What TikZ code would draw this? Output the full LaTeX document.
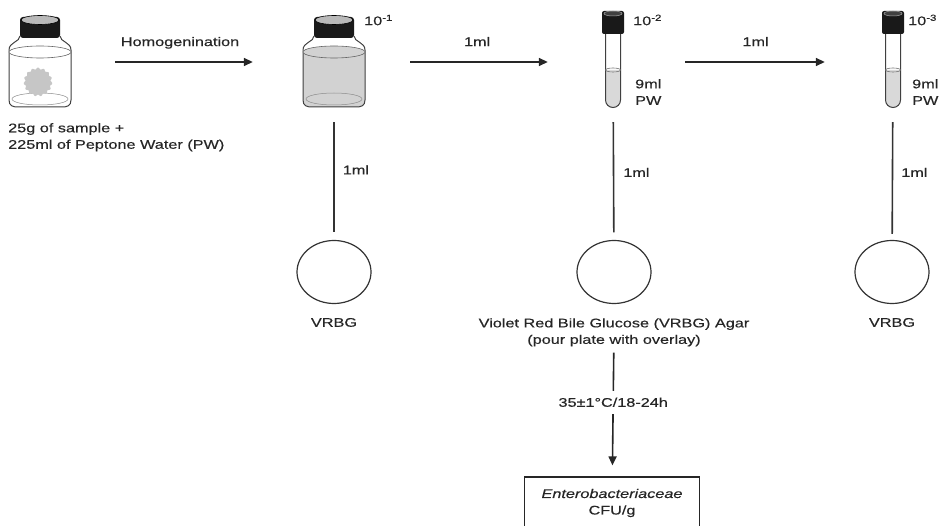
\documentclass[tikz,border=0pt]{standalone}
\usepackage{fontspec}
\setmainfont{Liberation Sans}[FakeStretch=1.3, FakeBold=0.4]
\usepackage{tikz}
\usetikzlibrary{shapes.geometric,arrows.meta,positioning}
\tikzset{
  vessel/.style={rectangle, inner sep=0pt, minimum height=96pt},
  plate/.style={ellipse, draw=black!80, line width=1.2pt, minimum width=74pt,
                minimum height=63pt, inner sep=0pt},
  lbl/.style={inner sep=2pt, text height=1.6ex, text depth=0.4ex},
  txt/.style={inner sep=2pt, align=center},
  result/.style={rectangle, draw=black!85, line width=1.2pt, minimum width=175pt,
                 minimum height=52pt, align=center, inner sep=3pt},
  ar/.style={-{Triangle[length=9pt,width=8pt]}, line width=1.6pt, draw=black!85},
  ln/.style={line width=1.6pt, draw=black!80}
}
% screw-cap bottle, #1 = x of its axis, #2 = liquid colour
\newcommand{\drawbottle}[2]{%
  \begin{scope}[shift={(#1,0)}]
    \fill[#2] (-31,52) -- (-31,100) .. controls (-31,106) and (-27,107) .. (-22,107)
      -- (22,107) .. controls (27,107) and (31,106) .. (31,100) -- (31,52) -- cycle;
    \draw[black!75, line width=1pt] (-20,36) .. controls (-20,42) and (-31,42) .. (-31,50)
      -- (-31,100) .. controls (-31,106) and (-27,107) .. (-22,107) -- (22,107)
      .. controls (27,107) and (31,106) .. (31,100) -- (31,50)
      .. controls (31,42) and (20,42) .. (20,36);
    \draw[black!60, line width=0.6pt, fill=#2] (0,52) ellipse[x radius=31, y radius=6];
    \draw[black!45, line width=0.5pt] (0,99) ellipse[x radius=28, y radius=6];
    \fill[black!90, rounded corners=3pt] (-20,17) rectangle (20,38);
    \draw[black, line width=0.6pt, fill=gray!55] (0,20) ellipse[x radius=19, y radius=4.5];
  \end{scope}}
% test tube with cap, #1 = x of its axis
\newcommand{\drawtube}[1]{%
  \begin{scope}[shift={(#1,0)}]
    \fill[gray!30] (-7.5,70) -- (-7.5,100) arc[start angle=180, end angle=0, radius=7.5]
      -- (7.5,70) -- cycle;
    \draw[black!75, line width=1pt] (-7.5,33) -- (-7.5,100)
      arc[start angle=180, end angle=0, radius=7.5] -- (7.5,33);
    \draw[black!55, line width=0.6pt] (0,70) ellipse[x radius=7.5, y radius=2];
    \fill[black!90, rounded corners=2pt] (-11,11) rectangle (11,34);
    \draw[gray!70, line width=0.5pt, fill=black!75] (0,13.5) ellipse[x radius=9, y radius=2.5];
  \end{scope}}

\begin{document}
\begin{tikzpicture}[x=1pt, y=-1pt, font=\fontsize{12.5}{16.5}\selectfont, color=black!85]
\useasboundingbox (0,0) rectangle (942,526);
\clip (0,0) rectangle (942,526);

% vessels
\node[vessel, minimum width=62pt] (sample) at (40,62) {};
\node[vessel, minimum width=62pt] (dilA) at (334,62) {};
\node[vessel, minimum width=24pt] (dilB) at (613,62) {};
\node[vessel, minimum width=24pt] (dilC) at (893,62) {};

\drawbottle{40}{white}
\fill[gray!45] plot[smooth cycle, samples=90, domain=0:356]
  ({38+(13.5+0.9*sin(15*\x))*cos(\x)}, {82+(13.5+0.9*sin(15*\x))*sin(\x)});
\drawbottle{334}{gray!35}
\drawtube{613}
\drawtube{893}

\node[txt, anchor=north west, align=left] (samplelbl) at (6,121)
  {25g of sample +\\225ml of Peptone Water (PW)};
\node[lbl, anchor=west] (expA) at (362,22) {10\textsuperscript{-1}};
\node[lbl, anchor=west] (expB) at (631,22) {10\textsuperscript{-2}};
\node[lbl, anchor=west] (expC) at (906,22) {10\textsuperscript{-3}};
\node[txt, anchor=west, align=left] (pwB) at (633,92) {9ml\\PW};
\node[txt, anchor=west, align=left] (pwC) at (910,92) {9ml\\PW};

% serial dilution
\draw[ar, shorten <=44pt, shorten >=50pt] (sample) -- node[lbl, pos=0.47, above=11pt] {Homogenination} (dilA);
\draw[ar, shorten <=45pt, shorten >=53pt] (dilA) -- node[lbl, pos=0.475, above=11pt] {1ml} (dilB);
\draw[ar, shorten <=60pt, shorten >=56pt] (dilB) -- node[lbl, pos=0.51, above=11pt] {1ml} (dilC);

% plating
\node[plate] (plateA) at (334,272) {};
\node[plate] (plateB) at (614,272) {};
\node[plate] (plateC) at (892,272) {};
\draw[ln, shorten <=12pt, shorten >=7.5pt] (dilA) -- node[lbl, pos=0.47, right=6pt] {1ml} (plateA);
\draw[ln, shorten <=12pt, shorten >=7.5pt] (dilB) -- node[lbl, pos=0.49, right=7pt] {1ml} (plateB);
\draw[ln, shorten <=12pt, shorten >=6pt] (dilC) -- node[lbl, pos=0.49, right=6pt] {1ml} (plateC);

\node[lbl, below=12pt of plateA] (vrbgA) {VRBG};
\node[txt, below=12pt of plateB] (agar) {Violet Red Bile Glucose (VRBG) Agar\\(pour plate with overlay)};
\node[lbl, below=12pt of plateC] (vrbgC) {VRBG};

% incubation and count
\node[result] (count) at (612,503) {\textit{Enterobacteriaceae}\\CFU/g};
\draw[ar, shorten <=4pt, shorten >=11pt] (agar) -- node[fill=white, inner sep=7pt, pos=0.42] {35±1°C/18-24h} (count);
\end{tikzpicture}
\end{document}
